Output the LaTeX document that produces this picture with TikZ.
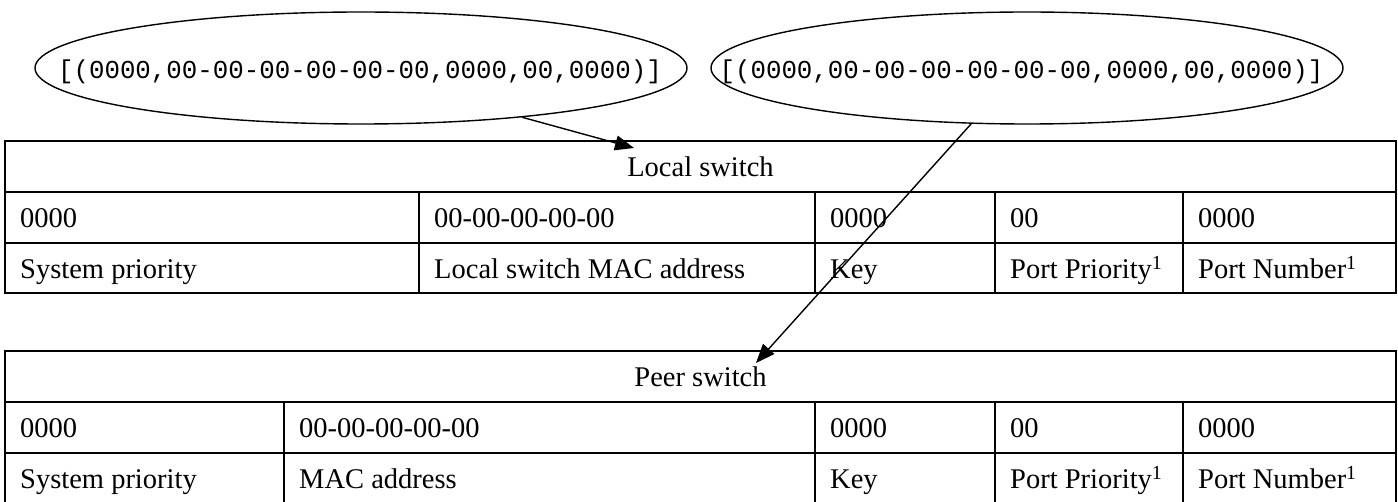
\documentclass[tikz,border=0pt]{standalone}
\usepackage{fontspec}
\setmainfont{Liberation Serif}
\setmonofont{Liberation Mono}
\usetikzlibrary{arrows.meta,shapes.geometric}
\begin{document}
\begin{tikzpicture}[x=1pt,y=-1pt,
  tline/.style={line width=2.2pt},
  cell/.style={anchor=base west, inner sep=0pt, font=\fontsize{28.5}{34}\selectfont},
  ttl/.style={anchor=base, inner sep=0pt, font=\fontsize{28.5}{34}\selectfont},
  oval/.style={draw, ellipse, line width=1.4pt, inner sep=0pt},
  mono/.style={anchor=base, inner sep=0pt, font=\ttfamily\fontsize{25.8}{30}\selectfont},
  conn/.style={line width=1.4pt, -{Triangle[length=19pt,width=15pt]}}
]
\useasboundingbox (0,0) rectangle (1398,502);

% ellipses
\node[oval, minimum width=652pt, minimum height=112pt] (e1) at (361,68) {};
\node[oval, minimum width=632pt, minimum height=112pt] (e2) at (1027,68) {};
\node[mono] (m1) at (360,79) {[(0000,00-00-00-00-00-00,0000,00,0000)]};
\node[mono] (m2) at (1021.5,79) {[(0000,00-00-00-00-00-00,0000,00,0000)]};

% local switch table
\draw[tline] (5,140.7) rectangle (1396,293.3);
\draw[tline] (5,191.7) -- (1396,191.7);
\draw[tline] (5,242.7) -- (1396,242.7);
\foreach \cx in {419,815,995,1183} \draw[tline] (\cx,191.7) -- (\cx,293.3);

\node[ttl] (lt) at (700.5,176.7) {Local switch};
\node[cell] (la1) at (20,227.7) {0000};
\node[cell] (la2) at (434,227.7) {00-00-00-00-00};
\node[cell] (la3) at (830,227.7) {0000};
\node[cell] (la4) at (1010,227.7) {00};
\node[cell] (la5) at (1198,227.7) {0000};
\node[cell] (lb1) at (20,278.3) {System priority};
\node[cell] (lb2) at (434,278.3) {Local switch MAC address};
\node[cell] (lb3) at (830,278.3) {Key};
\node[cell] (lb4) at (1010,278.3) {Port Priority\textsuperscript{1}};
\node[cell] (lb5) at (1198,278.3) {Port Number\textsuperscript{1}};

% peer switch table
\draw[tline] (5,351) rectangle (1396,504.5);
\draw[tline] (5,401.7) -- (1396,401.7);
\draw[tline] (5,452.7) -- (1396,452.7);
\foreach \cx in {284,815,995,1183} \draw[tline] (\cx,401.7) -- (\cx,504.5);

\node[ttl] (pt) at (700.5,386.7) {Peer switch};
\node[cell] (pa1) at (20,437.7) {0000};
\node[cell] (pa2) at (299,437.7) {00-00-00-00-00};
\node[cell] (pa3) at (830,437.7) {0000};
\node[cell] (pa4) at (1010,437.7) {00};
\node[cell] (pa5) at (1198,437.7) {0000};
\node[cell] (pb1) at (20,488.7) {System priority};
\node[cell] (pb2) at (299,488.7) {MAC address};
\node[cell] (pb3) at (830,488.7) {Key};
\node[cell] (pb4) at (1010,488.7) {Port Priority\textsuperscript{1}};
\node[cell] (pb5) at (1198,488.7) {Port Number\textsuperscript{1}};

% connectors
\coordinate (t1) at (634,148);
\coordinate (t2) at (756,363);
\draw[conn] (e1.-17) -- (t1);
\draw[conn] (e2.-135) -- (t2);
\end{tikzpicture}
\end{document}
